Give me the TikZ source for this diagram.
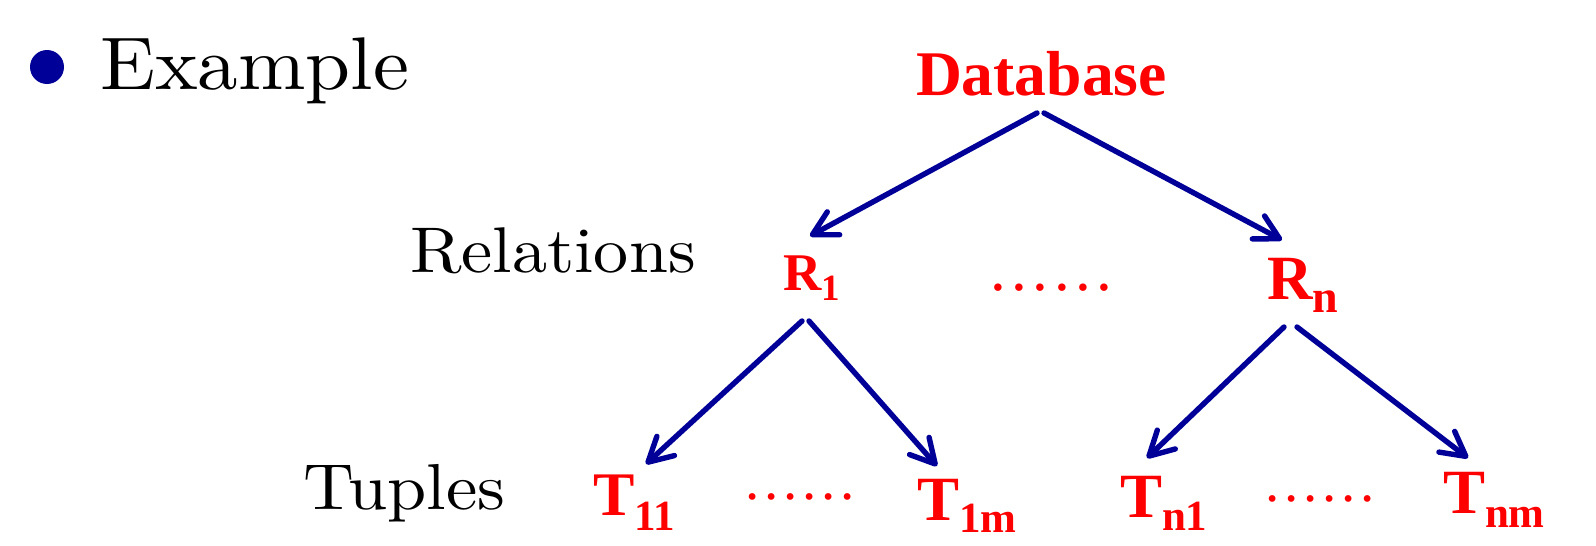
\documentclass[tikz,border=0pt]{standalone}
\usepackage{fontspec}
\usetikzlibrary{arrows.meta,calc}
\newfontfamily\lmw{lmroman10-regular.otf}[FakeStretch=1.085]
\newfontfamily\tnr{Liberation Serif}
\definecolor{navy}{HTML}{000099}
\definecolor{myred}{HTML}{FF0000}
\newcommand\redsub[5]{{\fontsize{#1}{#1}\selectfont #2}\raisebox{-#3}{\fontsize{#4}{#4}\selectfont #5}}
\newcommand\sixdots[1]{.\kern#1.\kern#1.\kern#1.\kern#1.\kern#1.}
\tikzset{
  lab/.style={inner sep=0pt, outer sep=0pt, anchor=base west},
  blk/.style={lab, text=black, font=\lmw},
  rd/.style={lab, text=myred, font=\tnr\bfseries},
  dts/.style={lab, text=myred, font=\tnr},
  arr/.style={draw=navy, line width=2.7pt, line cap=round,
    -{Straight Barb[length=12pt,width=13pt,round]}},
}
\begin{document}
\begin{tikzpicture}[x=0.5pt,y=-0.5pt]
\path[fill=white,use as bounding box] (0,0) rectangle (1596,546);
\node[circle, fill=navy, minimum size=17pt, inner sep=0pt] (bullet) at (47,67) {};
\node[blk] (ex) at (100,89) {\fontsize{37.3pt}{40pt}\selectfont Example};
\node[blk] (rel) at (410,272) {\fontsize{32.3pt}{36pt}\selectfont Relations};
\node[blk] (tup) at (303,509) {\fontsize{32.5pt}{36pt}\selectfont Tuples};
\node[rd] (db) at (916,95) {\fontsize{31.8pt}{36pt}\selectfont Database};
\node[rd] (r1) at (783,290) {\redsub{26.5pt}{R}{5pt}{18.5pt}{1}};
\node[rd] (rn) at (1267,299) {\redsub{31.5pt}{R}{6.5pt}{23pt}{n}};
\node[dts] (d1) at (990,290) {\fontsize{31.5pt}{36pt}\selectfont \sixdots{2.8pt}};
\node[rd] (t11) at (593,515) {\redsub{31pt}{T}{7.5pt}{21.5pt}{11}};
\node[rd] (t1m) at (917,520) {\redsub{31.5pt}{T}{6pt}{21.5pt}{1m}};
\node[rd] (tn1) at (1120,517) {\redsub{31.5pt}{T}{6.5pt}{21.5pt}{n1}};
\node[rd] (tnm) at (1443,513) {\redsub{31.5pt}{T}{7pt}{21.5pt}{nm}};
\node[dts] (d2) at (745,499) {\fontsize{28.5pt}{32pt}\selectfont \sixdots{2.4pt}};
\node[dts] (d3) at (1265,501) {\fontsize{28.5pt}{32pt}\selectfont \sixdots{2.4pt}};
\draw[arr] ($(db.base west)+(121,18)$) -- ($(r1.base west)+(27,-54)$);
\draw[arr] ($(db.base west)+(128,18)$) -- ($(rn.base west)+(15,-59)$);
\draw[arr] ($(r1.base west)+(19,31)$) -- ($(t11.base west)+(53,-51)$);
\draw[arr] ($(r1.base west)+(26,31)$) -- ($(t1m.base west)+(20,-54)$);
\draw[arr] ($(rn.base west)+(17,28)$) -- ($(tn1.base west)+(27,-59)$);
\draw[arr] ($(rn.base west)+(30,28)$) -- ($(tnm.base west)+(25,-55)$);
\end{tikzpicture}
\end{document}
